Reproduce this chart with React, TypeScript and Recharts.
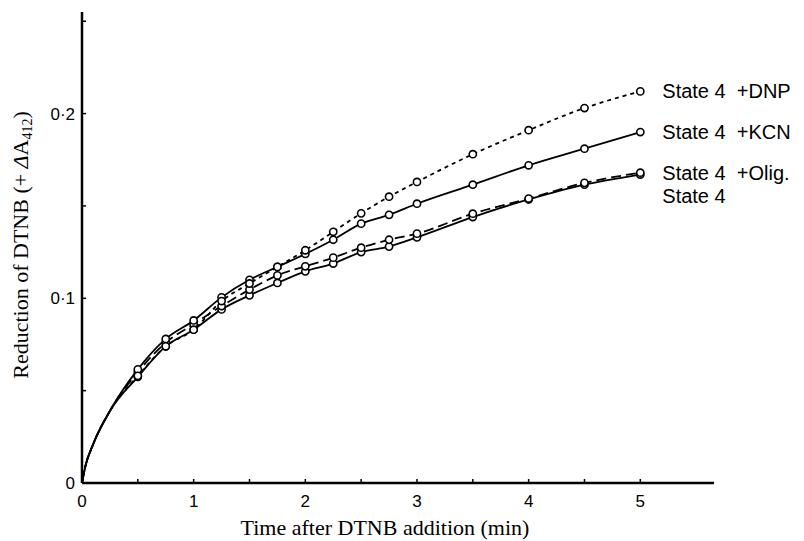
import { LineChart, Line, XAxis, YAxis } from 'recharts';

// shared initial rise (no circles drawn here)
const startTimes = [0, 0.03, 0.1, 0.25];
const startValues = [0, 0.009, 0.021, 0.039];

// sampled points (drawn with open circles)
const pointTimes = [0.5, 0.75, 1, 1.25, 1.5, 1.75, 2, 2.25, 2.5, 2.75, 3, 3.5, 4, 4.5, 5];
const dnp = [0.058, 0.074, 0.083, 0.0985, 0.108, 0.117, 0.126, 0.136, 0.146, 0.155, 0.163, 0.178, 0.191, 0.203, 0.212];
const kcn = [0.0615, 0.078, 0.088, 0.1005, 0.11, 0.117, 0.124, 0.1317, 0.1404, 0.1452, 0.1512, 0.1615, 0.172, 0.181, 0.19];
const olig = [0.06, 0.076, 0.086, 0.0958, 0.1047, 0.1124, 0.1173, 0.122, 0.1274, 0.1317, 0.135, 0.1458, 0.154, 0.1625, 0.168];
const state4 = [0.0575, 0.074, 0.083, 0.094, 0.1016, 0.1083, 0.1146, 0.1188, 0.125, 0.128, 0.133, 0.144, 0.1535, 0.1615, 0.167];

const xTicks = [0, 0.5, 1, 1.5, 2, 2.5, 3, 3.5, 4, 4.5, 5];
const xLabelValues = [0, 1, 2, 3, 4, 5];
const yTicks = [0, 0.05, 0.1, 0.15, 0.2, 0.25];
const yLabelValues = [0, 0.1, 0.2];
const yLabelTexts = ['0', '0·1', '0·2'];

const seriesLabels = {
  dnp: 'State 4\u00a0\u00a0+DNP',
  kcn: 'State 4\u00a0\u00a0+KCN',
  olig: 'State 4\u00a0\u00a0+Olig.',
  state4: 'State 4',
};

const sans = '"Liberation Sans", Arial, sans-serif';
const serif = '"Liberation Serif", "Times New Roman", serif';

const data = [
  ...startTimes.map((t, i) => ({
    t,
    dnp: startValues[i],
    kcn: startValues[i],
    olig: startValues[i],
    state4: startValues[i],
    mark: false,
  })),
  ...pointTimes.map((t, i) => ({
    t,
    dnp: dnp[i],
    kcn: kcn[i],
    olig: olig[i],
    state4: state4[i],
    mark: true,
  })),
];
const lastIndex = data.length - 1;

function YTick({ x, y, payload }: any) {
  const i = yLabelValues.indexOf(payload.value);
  return (
    <g>
      <line x1={x} x2={x + 4} y1={y} y2={y} stroke="#000" strokeWidth={1.5} />
      {i >= 0 && (
        <text x={x - 7} y={y} dy={6} textAnchor="end" fontFamily={sans} fontSize={17} fill="#000">
          {yLabelTexts[i]}
        </text>
      )}
    </g>
  );
}

function XTick({ x, y, payload }: any) {
  const show = xLabelValues.includes(payload.value);
  return (
    <g>
      <line x1={x} x2={x} y1={y} y2={y - 4} stroke="#000" strokeWidth={1.5} />
      {show && (
        <text x={x} y={y + 24} textAnchor="middle" fontFamily={sans} fontSize={17} fill="#000">
          {payload.value}
        </text>
      )}
    </g>
  );
}

const renderDot = (props: any) => {
  const { cx, cy, payload, index } = props;
  if (!payload.mark || cx == null) return <g key={index} />;
  return <circle key={index} cx={cx} cy={cy} r={3.6} fill="#fff" stroke="#000" strokeWidth={1.6} />;
};

const endLabel = (text: string, dy: number) => (props: any) => {
  const { x, y, index } = props;
  if (index !== lastIndex) return <g key={index} />;
  return (
    <text key={index} x={x + 22} y={y + dy} dy={7} fontFamily={sans} fontSize={20} fill="#000">
      {text}
    </text>
  );
};

export default function App() {
  return (
    <div style={{ position: 'absolute', left: 0, top: 0, width: 804, height: 541, background: '#fff' }}>
      <LineChart width={804} height={541} data={data} margin={{ top: 12, right: 90, bottom: 0, left: 0 }}>
        <XAxis
          dataKey="t"
          type="number"
          domain={[0, 5.66]}
          ticks={xTicks}
          tick={<XTick />}
          tickSize={0}
          tickMargin={0}
          tickLine={false}
          axisLine={{ stroke: '#000', strokeWidth: 2.5 }}
          height={58}
          interval={0}
        />
        <YAxis
          type="number"
          domain={[0, 0.255]}
          ticks={yTicks}
          tick={<YTick />}
          tickSize={0}
          tickMargin={0}
          tickLine={false}
          axisLine={{ stroke: '#000', strokeWidth: 2.5 }}
          width={82}
          interval={0}
        />
        <Line
          dataKey="state4"
          type="monotone"
          stroke="#000"
          strokeWidth={1.8}
          dot={renderDot}
          label={endLabel(seriesLabels.state4, 21)}
          isAnimationActive={false}
        />
        <Line
          dataKey="olig"
          type="monotone"
          stroke="#000"
          strokeWidth={1.8}
          strokeDasharray="10 5"
          dot={renderDot}
          label={endLabel(seriesLabels.olig, 0)}
          isAnimationActive={false}
        />
        <Line
          dataKey="kcn"
          type="monotone"
          stroke="#000"
          strokeWidth={1.8}
          dot={renderDot}
          label={endLabel(seriesLabels.kcn, 0)}
          isAnimationActive={false}
        />
        <Line
          dataKey="dnp"
          type="monotone"
          stroke="#000"
          strokeWidth={1.8}
          strokeDasharray="4 4"
          dot={renderDot}
          label={endLabel(seriesLabels.dnp, 0)}
          isAnimationActive={false}
        />
      </LineChart>
      <svg width={804} height={541} style={{ position: 'absolute', left: 0, top: 0, pointerEvents: 'none' }}>
        <text
          transform="translate(28,245) rotate(-90)"
          textAnchor="middle"
          fontFamily={serif}
          fontSize={22}
          fill="#000"
        >
          Reduction of DTNB (+ <tspan fontStyle="italic">Δ</tspan>A
          <tspan fontSize={14} dy={4}>412</tspan>
          <tspan dy={-4}>)</tspan>
        </text>
        <text x={385} y={535} textAnchor="middle" fontFamily={serif} fontSize={22} fill="#000">
          Time after DTNB addition (min)
        </text>
      </svg>
    </div>
  );
}
